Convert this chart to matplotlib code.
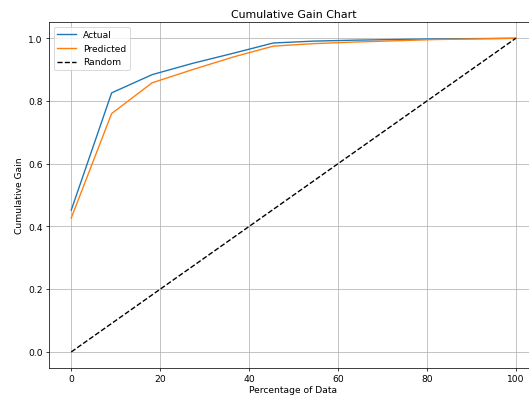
import numpy as np
import matplotlib.pyplot as plt

# Percentage of data at each step (12 points)
pct = [0, 9.09, 18.18, 27.27, 36.36, 45.45, 54.55, 63.64, 72.73, 81.82, 90.91, 100]
actual = [0.452, 0.826, 0.884, 0.920, 0.952, 0.985, 0.991, 0.994, 0.996, 0.998, 0.999, 1.0]
predicted = [0.427, 0.760, 0.858, 0.900, 0.940, 0.975, 0.983, 0.988, 0.992, 0.996, 0.998, 1.0]
random_x = [0, 100]
random_y = [0, 1]

# 8x6 inch figure rendered at 529x396 pixels
fig = plt.figure(figsize=(8, 6), dpi=529/8)
ax = fig.add_axes([49/529, 28/396, (538-49)/529, (368-23)/396])

ax.plot(pct, actual, label='Actual')
ax.plot(pct, predicted, label='Predicted')
ax.plot(random_x, random_y, 'k--', label='Random')

ax.set_xlim(-5, 105)
ax.set_ylim(-0.051, 1.051)
ax.set_title('Cumulative Gain Chart')
ax.set_xlabel('Percentage of Data', labelpad=2)
ax.set_ylabel('Cumulative Gain')
ax.legend(loc='upper left')
ax.grid(True)

fig.savefig('out.png', dpi=529/8)
